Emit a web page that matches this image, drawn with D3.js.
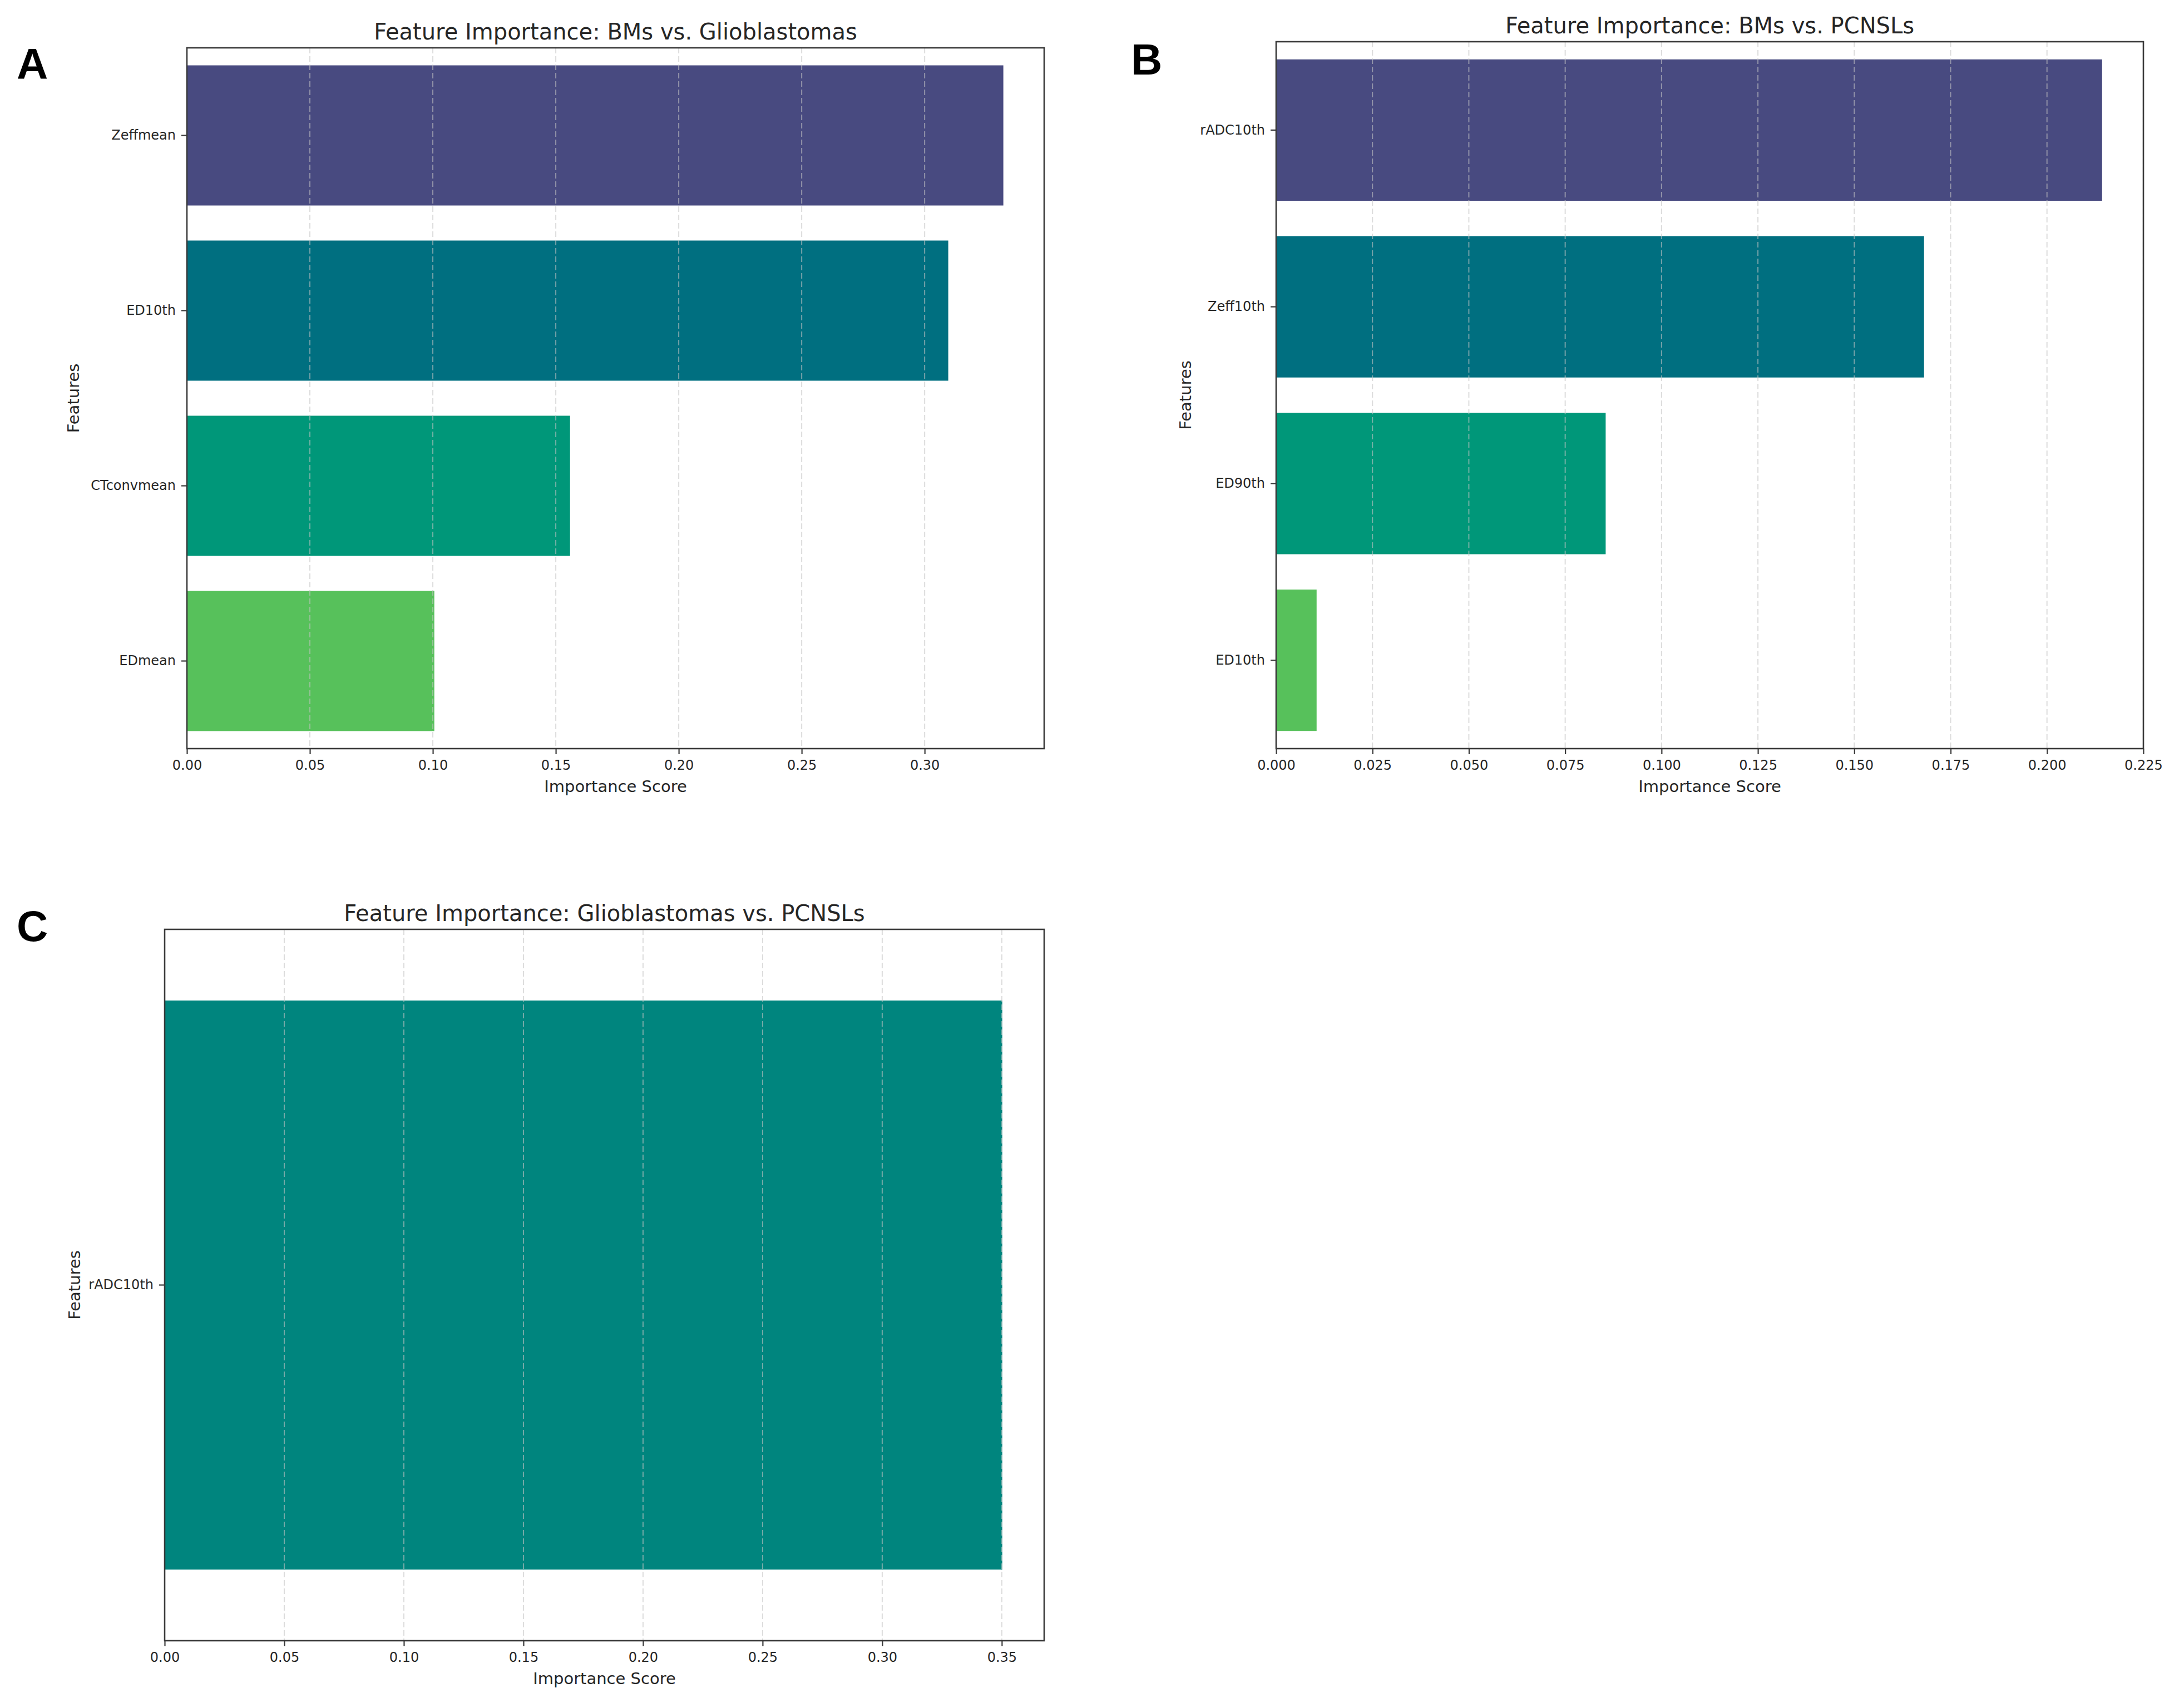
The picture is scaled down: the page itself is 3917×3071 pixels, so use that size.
<!DOCTYPE html>
<html>
<head>
<meta charset="utf-8">
<script src="https://cdn.jsdelivr.net/npm/d3@7"></script>
<style>
  html, body { margin: 0; padding: 0; background: #fff; }
  svg { display: block; }
  text { font-family: "DejaVu Sans", sans-serif; fill: #262626; }
</style>
</head>
<body>
<svg id="fig" width="3917" height="3071"></svg>
<script>
// values
const featuresA = ["Zeffmean", "ED10th", "CTconvmean", "EDmean"];
const scoresA = [0.332, 0.3096, 0.1558, 0.1006];
const ticksA = [0, 0.05, 0.10, 0.15, 0.20, 0.25, 0.30];

const featuresB = ["rADC10th", "Zeff10th", "ED90th", "ED10th"];
const scoresB = [0.2143, 0.1681, 0.0855, 0.0105];
const ticksB = [0, 0.025, 0.050, 0.075, 0.100, 0.125, 0.150, 0.175, 0.200, 0.225];

const featuresC = ["rADC10th"];
const scoresC = [0.3502];
const ticksC = [0, 0.05, 0.10, 0.15, 0.20, 0.25, 0.30, 0.35];

const titles = [
  "Feature Importance: BMs vs. Glioblastomas",
  "Feature Importance: BMs vs. PCNSLs",
  "Feature Importance: Glioblastomas vs. PCNSLs"
];
const panelLetters = ["A", "B", "C"];

// four-step viridis as it looks in the figure
const palette4 = ["#484a80", "#006f80", "#009779", "#57c15b"];
const palette1 = ["#00857e"];

const svg = d3.select("#fig");

function drawPanel(p) {
  const g = svg.append("g");

  const x = d3.scaleLinear()
    .domain([0, d3.max(p.scores) * 1.05])
    .range([p.left, p.right]);

  const y = d3.scaleBand()
    .domain(p.features)
    .range([p.top, p.bottom])
    .paddingInner(0.2)
    .paddingOuter(0.1);

  // bars
  g.selectAll("rect.bar")
    .data(p.features)
    .enter().append("rect")
    .attr("class", "bar")
    .attr("x", x(0))
    .attr("y", d => y(d))
    .attr("width", (d, i) => x(p.scores[i]) - x(0))
    .attr("height", y.bandwidth())
    .attr("fill", (d, i) => p.colors[i]);

  // dashed vertical grid on top of bars
  g.append("g")
    .selectAll("line")
    .data(p.ticks)
    .enter().append("line")
    .attr("x1", d => x(d)).attr("x2", d => x(d))
    .attr("y1", p.top).attr("y2", p.bottom)
    .attr("stroke", "#c4c4c4")
    .attr("stroke-opacity", 0.6)
    .attr("stroke-width", 2)
    .attr("stroke-dasharray", "10,5");

  // frame
  g.append("rect")
    .attr("x", p.left).attr("y", p.top)
    .attr("width", p.right - p.left).attr("height", p.bottom - p.top)
    .attr("fill", "none")
    .attr("stroke", "#3a3a3a")
    .attr("stroke-width", 2.6);

  // x axis
  const xAxis = g.append("g")
    .attr("transform", `translate(0,${p.bottom})`)
    .call(d3.axisBottom(x).tickValues(p.ticks).tickFormat(d3.format(p.fmt))
      .tickSize(10).tickPadding(11));
  xAxis.select(".domain").remove();
  xAxis.selectAll(".tick line").attr("stroke", "#3a3a3a").attr("stroke-width", 2.2);
  xAxis.selectAll(".tick text").attr("font-size", 24).attr("fill", "#262626")
    .style("font-family", "DejaVu Sans");

  // y axis
  const yAxis = g.append("g")
    .attr("transform", `translate(${p.left},0)`)
    .call(d3.axisLeft(y).tickSize(10).tickPadding(10));
  yAxis.select(".domain").remove();
  yAxis.selectAll(".tick line").attr("stroke", "#3a3a3a").attr("stroke-width", 2.2);
  yAxis.selectAll(".tick text").attr("font-size", 24).attr("fill", "#262626")
    .style("font-family", "DejaVu Sans");

  // title
  g.append("text")
    .attr("x", (p.left + p.right) / 2)
    .attr("y", p.top - 15)
    .attr("text-anchor", "middle")
    .attr("font-size", 40)
    .text(p.title);

  // axis labels
  g.append("text")
    .attr("x", (p.left + p.right) / 2)
    .attr("y", p.bottom + 78)
    .attr("text-anchor", "middle")
    .attr("font-size", 29)
    .text("Importance Score");

  g.append("text")
    .attr("transform", `translate(${p.ylabX},${(p.top + p.bottom) / 2}) rotate(-90)`)
    .attr("text-anchor", "middle")
    .attr("font-size", 29)
    .text("Features");

  // panel letter
  svg.append("text")
    .attr("x", p.letterX)
    .attr("y", p.letterY)
    .attr("font-size", 78)
    .attr("font-weight", "bold")
    .style("font-family", "Liberation Sans, Arial, sans-serif")
    .style("fill", "#000")
    .text(p.letter);
}

drawPanel({
  features: featuresA, scores: scoresA, ticks: ticksA, fmt: ".2f",
  colors: palette4, title: titles[0], letter: panelLetters[0],
  left: 336, right: 1877, top: 86, bottom: 1346,
  ylabX: 142, letterX: 30, letterY: 142
});

drawPanel({
  features: featuresB, scores: scoresB, ticks: ticksB, fmt: ".3f",
  colors: palette4, title: titles[1], letter: panelLetters[1],
  left: 2294, right: 3853, top: 75, bottom: 1346,
  ylabX: 2141, letterX: 2033, letterY: 134
});

drawPanel({
  features: featuresC, scores: scoresC, ticks: ticksC, fmt: ".2f",
  colors: palette1, title: titles[2], letter: panelLetters[2],
  left: 296, right: 1877, top: 1671, bottom: 2950,
  ylabX: 144, letterX: 30, letterY: 1692
});
</script>
</body>
</html>
